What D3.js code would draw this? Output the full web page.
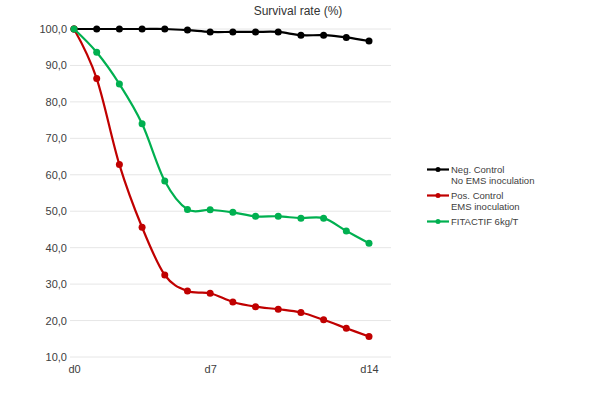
<!DOCTYPE html>
<html>
<head>
<meta charset="utf-8">
<script src="https://cdn.jsdelivr.net/npm/d3@7"></script>
<style>
  body { margin: 0; background: #fff; }
  svg { font-family: "Liberation Sans", Arial, sans-serif; }
</style>
</head>
<body>
<div id="chart"></div>
<script>
const days = ['d0', 'd1', 'd2', 'd3', 'd4', 'd5', 'd7', 'd8', 'd9', 'd10', 'd11', 'd12', 'd13', 'd14']
const shownDays = ['d0', 'd7', 'd14']
const yTicks = [10, 20, 30, 40, 50, 60, 70, 80, 90, 100]

const negControl = [100, 100, 100, 100, 100, 99.7, 99.2, 99.2, 99.2, 99.2, 98.3, 98.3, 97.7, 96.7]
const posControl = [100, 86.4, 62.8, 45.6, 32.5, 28.1, 27.5, 25.1, 23.8, 23.1, 22.2, 20.2, 17.9, 15.6]
const fitactif = [100, 93.6, 84.9, 74.0, 58.3, 50.5, 50.4, 49.7, 48.6, 48.6, 48.1, 48.1, 44.6, 41.2]

const series = [
  { name: ['Neg. Control', 'No EMS inoculation'], values: negControl, color: '#000000' },
  { name: ['Pos. Control', 'EMS inoculation'], values: posControl, color: '#c00000' },
  { name: ['FITACTIF 6kg/T'], values: fitactif, color: '#00b050' }
]

const width = 600, height = 395
const margin = { top: 29, right: 209, bottom: 38, left: 70 }
const innerW = width - margin.left - margin.right
const innerH = height - margin.top - margin.bottom

const svg = d3.select('#chart').append('svg')
  .attr('width', width)
  .attr('height', height)

const g = svg.append('g').attr('transform', `translate(${margin.left},${margin.top})`)

const x = d3.scalePoint().domain(days).range([4, innerW - 22])
const y = d3.scaleLinear().domain([10, 100]).range([innerH, 0])

// Grid
g.append('g')
  .selectAll('line').data(yTicks).join('line')
  .attr('x1', 0).attr('x2', innerW)
  .attr('y1', d => y(d)).attr('y2', d => y(d))
  .attr('stroke', '#e6e6e6')
  .attr('stroke-width', 1)

// Axes
const yAxis = g.append('g')
  .call(d3.axisLeft(y).tickValues(yTicks).tickSize(0).tickPadding(3).tickFormat(d => d3.format('.1f')(d).replace('.', ',')))
yAxis.select('.domain').remove()
yAxis.selectAll('text').attr('fill', '#404040').attr('font-size', '11px')
  .attr('font-family', '"Liberation Sans", Arial, sans-serif')

const xAxis = g.append('g')
  .attr('transform', `translate(0,${innerH})`)
  .call(d3.axisBottom(x).tickValues(shownDays).tickSize(0).tickPadding(8))
xAxis.select('.domain').remove()
xAxis.selectAll('text').attr('fill', '#404040').attr('font-size', '11px')
  .attr('font-family', '"Liberation Sans", Arial, sans-serif')

// Title
svg.append('text')
  .attr('x', 298)
  .attr('y', 15)
  .attr('text-anchor', 'middle')
  .attr('fill', '#333')
  .attr('font-size', '12px')
  .text('Survival rate (%)')

const line = d3.line()
  .x((d, i) => x(days[i]))
  .y(d => y(d))
  .curve(d3.curveCardinal.tension(0))

series.forEach(s => {
  g.append('path')
    .datum(s.values)
    .attr('fill', 'none')
    .attr('stroke', s.color)
    .attr('stroke-width', 2.2)
    .attr('d', line)

  g.selectAll(null)
    .data(s.values)
    .join('circle')
    .attr('cx', (d, i) => x(days[i]))
    .attr('cy', d => y(d))
    .attr('r', 3.5)
    .attr('fill', s.color)
})

// Legend
const legend = svg.append('g').attr('transform', 'translate(427,173)')
let ly = 0
series.forEach(s => {
  const item = legend.append('g').attr('transform', `translate(0,${ly})`)
  item.append('line')
    .attr('x1', 0).attr('x2', 22)
    .attr('y1', -3.5).attr('y2', -3.5)
    .attr('stroke', s.color)
    .attr('stroke-width', 2.2)
  item.append('circle')
    .attr('cx', 11).attr('cy', -3.5).attr('r', 2.5)
    .attr('fill', s.color)
  s.name.forEach((t, j) => {
    item.append('text')
      .attr('x', 24)
      .attr('y', j * 10.7)
      .attr('fill', '#404040')
      .attr('font-size', '9.5px')
      .text(t)
  })
  ly += s.name.length > 1 ? 26 : 26
})
</script>
</body>
</html>
